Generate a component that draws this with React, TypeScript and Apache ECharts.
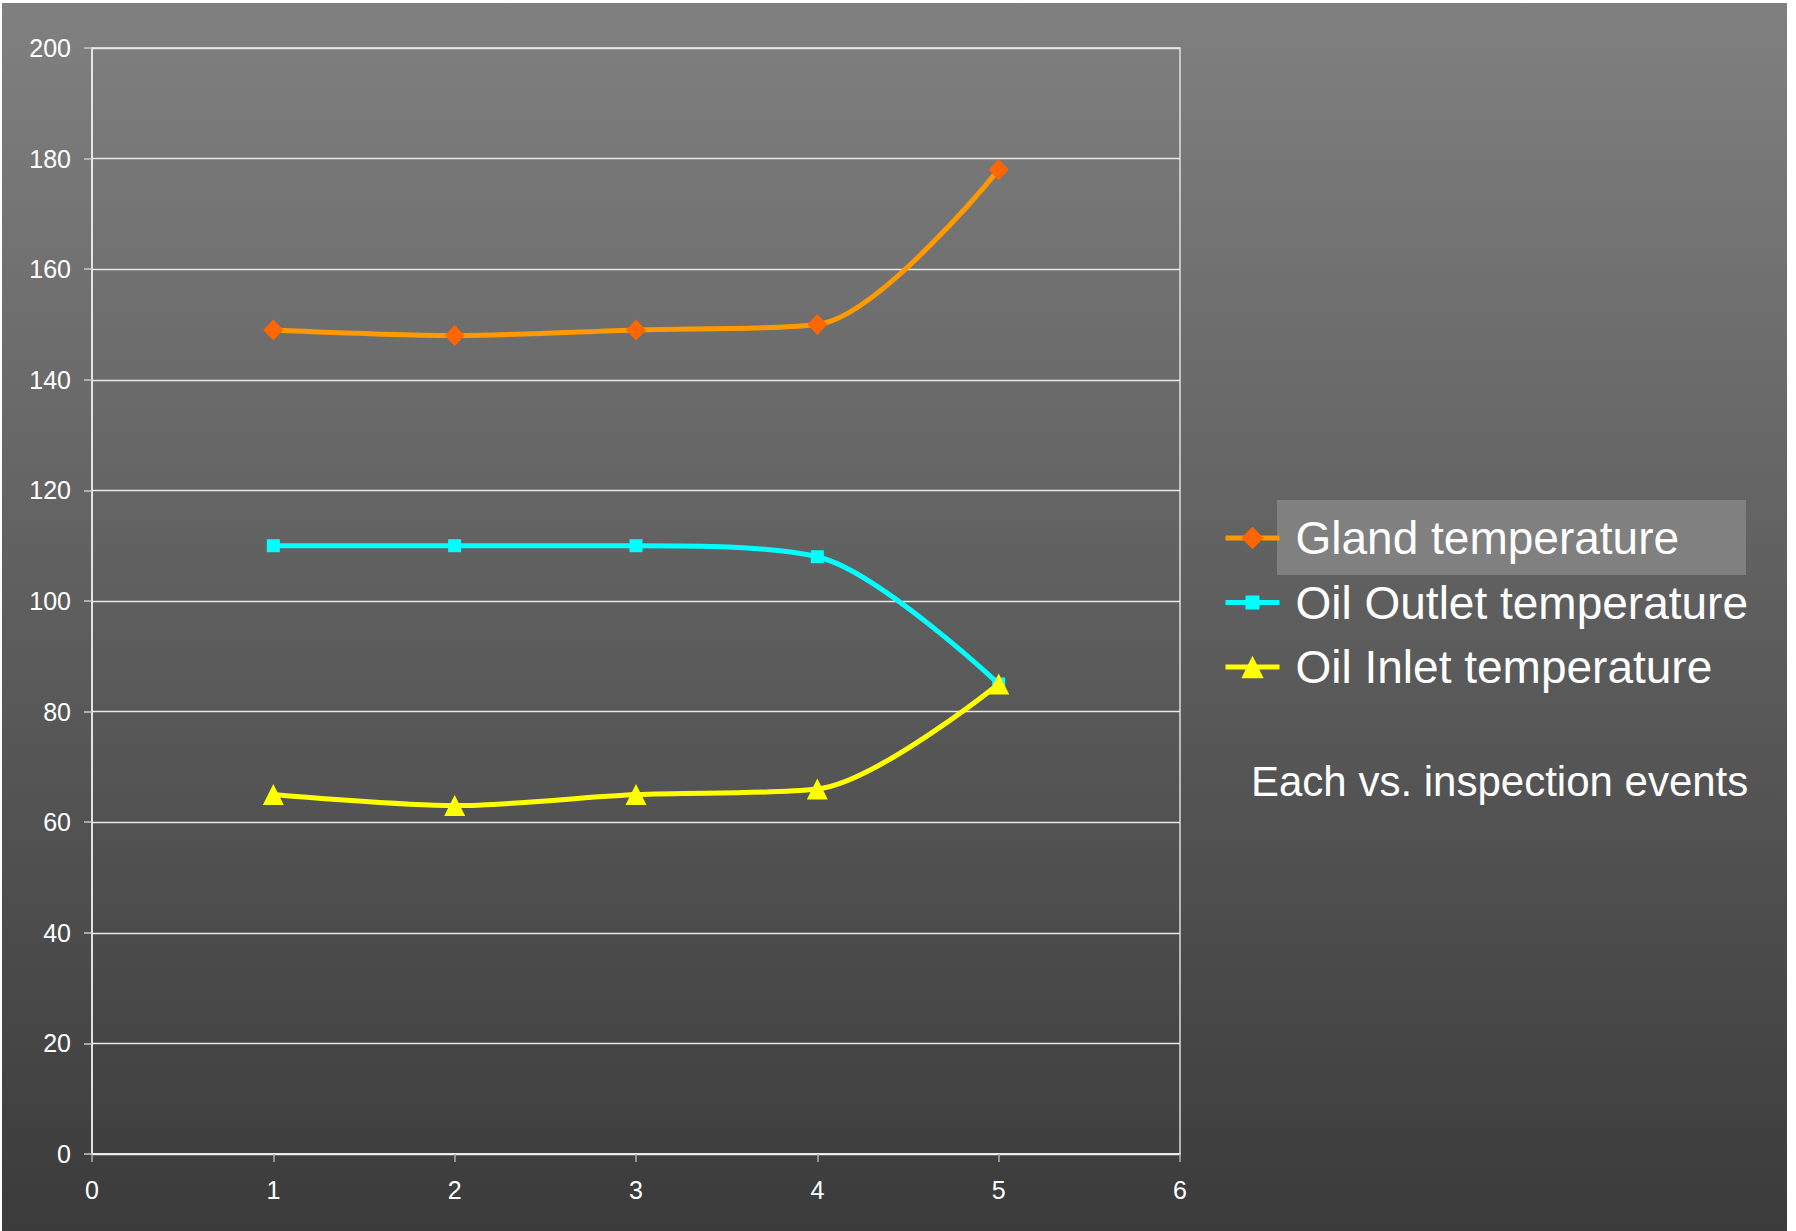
import React, { useEffect, useRef } from "react";
import * as echarts from "echarts";

// Inspection events and the temperatures measured at each one
const events = [1, 2, 3, 4, 5];
const glandTemp = [149, 148, 149, 150, 178];
const oilOutletTemp = [110, 110, 110, 108, 85];
const oilInletTemp = [65, 63, 65, 66, 85];

const seriesNames = ["Gland temperature", "Oil Outlet temperature", "Oil Inlet temperature"];
const noteText = "Each vs. inspection events";

const FONT = "'Liberation Sans', Arial, Helvetica, sans-serif";

const pairs = (vals: number[]) => events.map((x, i) => [x, vals[i]]);

// Legend icon for the outlet series: a bar with a small square on it,
// framed in a 54 x 28 box so it keeps its proportions
const outletIcon =
  "path://M0,0 L0,0 M0,28 L0,28 M54,0 L54,0 M0,11.5 L54,11.5 L54,16.5 L0,16.5 Z M20,7 L34,7 L34,21 L20,21 Z";

export default function App() {
  const ref = useRef<HTMLDivElement>(null);

  useEffect(() => {
    if (!ref.current) return;
    const chart = echarts.init(ref.current, undefined, { renderer: "svg" });

    const lineSeries = (
      name: string,
      vals: number[],
      lineColor: string,
      markColor: string,
      symbol: string,
      symbolSize: number | number[]
    ) => ({
      type: "line",
      name,
      data: pairs(vals),
      smooth: 0.3,
      symbol,
      symbolSize,
      showAllSymbol: true,
      lineStyle: { color: lineColor, width: 5 },
      itemStyle: { color: markColor, borderWidth: 0 },
      emphasis: { disabled: true },
      z: 3,
    });

    chart.setOption({
      animation: false,
      backgroundColor: "#ffffff",
      textStyle: { fontFamily: FONT },
      graphic: [
        {
          type: "rect",
          z: -10,
          silent: true,
          shape: { x: 2, y: 3, width: 1785, height: 1228 },
          style: {
            fill: new echarts.graphic.LinearGradient(0, 0, 0, 1, [
              { offset: 0, color: "#808080" },
              { offset: 1, color: "#3b3b3b" },
            ]),
          },
        },
        {
          type: "rect",
          z: -5,
          silent: true,
          shape: { x: 1277, y: 500, width: 469, height: 75 },
          style: { fill: "#808080" },
        },
        {
          type: "text",
          x: 1251,
          y: 781,
          silent: true,
          style: {
            text: noteText,
            fill: "#ffffff",
            font: `42px ${FONT}`,
            textVerticalAlign: "middle",
          },
        },
      ],
      grid: {
        left: 92,
        top: 48,
        right: 616,
        bottom: 77,
        show: true,
        borderColor: "#f0f0f0",
        borderWidth: 1.3,
        backgroundColor: "transparent",
      },
      legend: {
        orient: "vertical",
        left: 1218,
        top: 510,
        itemWidth: 54,
        itemHeight: 28,
        itemGap: 18.5,
        selectedMode: false,
        lineStyle: { width: 5 },
        textStyle: { color: "#ffffff", fontSize: 46, fontFamily: FONT, padding: [0, 0, 0, 11] },
        data: [
          { name: seriesNames[0] },
          { name: seriesNames[1], icon: outletIcon, itemStyle: { color: "#00ffff" } },
          { name: seriesNames[2] },
        ],
      },
      xAxis: {
        type: "value",
        min: 0,
        max: 6,
        interval: 1,
        axisLine: { show: true, lineStyle: { color: "#f0f0f0", width: 1.5 } },
        axisTick: { show: true, length: 8, lineStyle: { color: "#b0b0b0", width: 1.5 } },
        axisLabel: { color: "#ffffff", fontSize: 25, margin: 23, fontFamily: FONT },
        splitLine: { show: false },
      },
      yAxis: {
        type: "value",
        min: 0,
        max: 200,
        interval: 20,
        axisLine: { show: true, lineStyle: { color: "#f0f0f0", width: 1.5 } },
        axisTick: { show: true, length: 8, lineStyle: { color: "#c8c8c8", width: 1.5 } },
        axisLabel: { color: "#ffffff", fontSize: 25, margin: 21, fontFamily: FONT },
        splitLine: { show: true, lineStyle: { color: "#e8e8e8", width: 1.3 } },
      },
      series: [
        lineSeries(seriesNames[0], glandTemp, "#ff9900", "#ff6600", "diamond", [20, 21]),
        lineSeries(seriesNames[1], oilOutletTemp, "#00ffff", "#00ffff", "rect", 13),
        lineSeries(seriesNames[2], oilInletTemp, "#ffff00", "#ffff00", "triangle", 21),
      ],
    });

    return () => chart.dispose();
  }, []);

  return (
    <div
      ref={ref}
      style={{ position: "absolute", left: 0, top: 0, width: 1796, height: 1231 }}
    />
  );
}
